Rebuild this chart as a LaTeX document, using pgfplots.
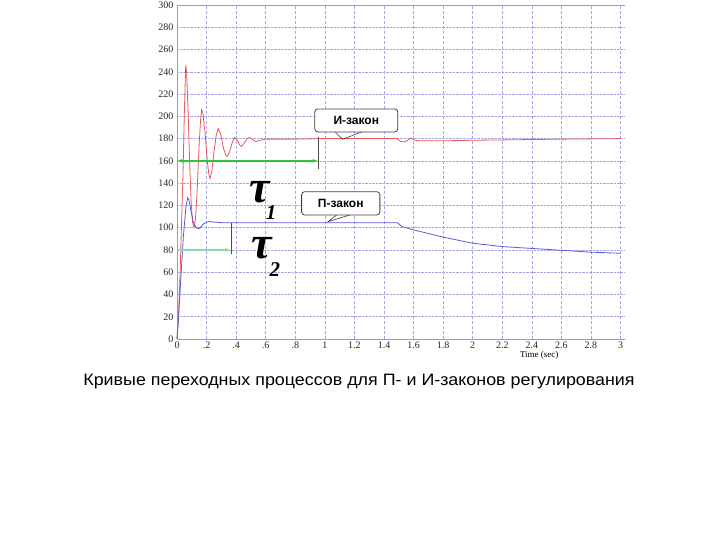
\documentclass[border=0pt]{standalone}
\usepackage{pgfplots}
\pgfplotsset{compat=1.18}
\usepackage{fontspec}
\setmainfont{Liberation Serif}
\newfontfamily\arialfont{Liberation Sans}
\usetikzlibrary{arrows.meta}
\definecolor{redc}{HTML}{E8585A}
\definecolor{bluec}{HTML}{5A5AD8}
\definecolor{gridc}{HTML}{A6A6E6}
\definecolor{greenA}{HTML}{33C23A}
\definecolor{greenB}{HTML}{8FD8A8}
\begin{document}
\begin{tikzpicture}
\path[use as bounding box] (0,0) rectangle (720pt,540pt);
\begin{axis}[
  at={(177pt,201pt)}, anchor=south west,
  scale only axis, width=448pt, height=334pt,
  xmin=0, xmax=3.03, ymin=0, ymax=300,
  axis x line=box, axis y line=left,
  axis line style={-, draw=gray!75},
  xtick={0,0.2,...,3}, xticklabels={0,.2,.4,.6,.8,1,1.2,1.4,1.6,1.8,2,2.2,2.4,2.6,2.8,3},
  ytick={0,20,...,300},
  major tick length=0pt,
  xtick pos=bottom, ytick pos=left,
  /pgf/number format/assume math mode=true,
  tick label style={font=\fontsize{10}{10}\selectfont, text=black!85},
  xticklabel style={yshift=1pt},
  grid=major,
  x grid style={densely dashed, color=gridc, line width=0.45pt},
  y grid style={densely dotted, color=gridc, line width=0.55pt},
  clip=false,
]
\addplot[redc, line width=0.8pt] coordinates {
(0,0) (0.01,20) (0.02,55) (0.03,100) (0.04,145) (0.05,205) (0.059,246) (0.065,240)
(0.075,205) (0.085,160) (0.095,125) (0.105,105) (0.115,100) (0.125,108) (0.135,130)
(0.15,175) (0.16,198) (0.167,206) (0.175,203) (0.19,185) (0.205,160) (0.215,148)
(0.223,144) (0.235,150) (0.25,168) (0.265,183) (0.279,189) (0.295,184) (0.315,171)
(0.33,165) (0.34,164) (0.355,168) (0.375,177) (0.39,181) (0.41,178) (0.425,174)
(0.437,173) (0.455,176) (0.475,180) (0.49,181) (0.51,179) (0.534,177.4) (0.56,178.5)
(0.6,179.5) (0.7,179.5) (0.8,179.5) (1.0,180) (1.2,180) (1.4,180) (1.49,180)
(1.51,177.5) (1.54,177) (1.56,178.5) (1.58,180.5) (1.61,178.5) (1.65,178) (1.8,178)
(2.0,178.5) (2.3,179) (2.6,179.5) (3.0,180)
};
\addplot[bluec, line width=0.8pt] coordinates {
(0,0) (0.01,18) (0.025,53) (0.043,92) (0.06,118) (0.072,127) (0.08,125) (0.095,115)
(0.11,105) (0.125,101) (0.14,99) (0.155,99.5) (0.175,103) (0.2,105) (0.22,105.5)
(0.25,105) (0.3,104.5) (0.4,104.5) (1.0,104.5) (1.49,104.5) (1.52,101) (1.6,98)
(1.8,91.5) (2.0,86) (2.2,83) (2.5,80.5) (2.8,78) (3.0,77)
};
% tau1 marker
\draw[greenA, line width=1.6pt, {Stealth[length=5pt]}-{Stealth[length=5pt]}] (axis cs:0.005,160) -- (axis cs:0.95,160);
\draw[black!70, line width=0.7pt] (axis cs:0.956,153) -- (axis cs:0.956,181);
% tau2 marker
\draw[greenB, line width=1.6pt, {Stealth[length=5pt]}-{Stealth[length=5pt]}] (axis cs:0.005,80) -- (axis cs:0.36,80);
\draw[black!70, line width=0.7pt] (axis cs:0.368,76) -- (axis cs:0.368,104.5);
% tau labels
\node[anchor=base west, inner sep=0pt, font=\fontsize{46}{46}\selectfont\bfseries\itshape] at (axis cs:0.49,123) {τ};
\node[anchor=base west, inner sep=0pt, font=\fontsize{21}{21}\selectfont\bfseries\itshape] at (axis cs:0.60,107) {1};
\node[anchor=base west, inner sep=0pt, font=\fontsize{46}{46}\selectfont\bfseries\itshape] at (axis cs:0.50,72) {τ};
\node[anchor=base west, inner sep=0pt, font=\fontsize{21}{21}\selectfont\bfseries\itshape] at (axis cs:0.625,56) {2};
% callouts
\draw[black!75, line width=0.6pt] (axis cs:1.07,186) -- (axis cs:1.12,179.4) -- (axis cs:1.25,186);
\draw[black!75, line width=0.8pt, fill=white, rounded corners=3pt] (axis cs:0.932,186) rectangle (axis cs:1.493,206.6);
\node[font=\arialfont\bfseries\fontsize{12}{12}\selectfont] at (axis cs:1.2125,196.3) {И-закон};
\draw[black!75, line width=0.6pt] (axis cs:1.08,111.4) -- (axis cs:1.022,105.4) -- (axis cs:1.17,111.4);
\draw[black!75, line width=0.8pt, fill=white, rounded corners=3pt] (axis cs:0.843,111.4) rectangle (axis cs:1.372,132.3);
\node[font=\arialfont\bfseries\fontsize{12}{12}\selectfont] at (axis cs:1.1075,121.85) {П-закон};
\node[font=\fontsize{9}{9}\selectfont] at (axis cs:2.45,-14.8) {Time (sec)};
\end{axis}
\node[font=\arialfont\fontsize{16.5}{16.5}\selectfont, xscale=1.083] at (359pt,158pt) {Кривые переходных процессов для П- и И-законов регулирования};
\end{tikzpicture}
\end{document}
